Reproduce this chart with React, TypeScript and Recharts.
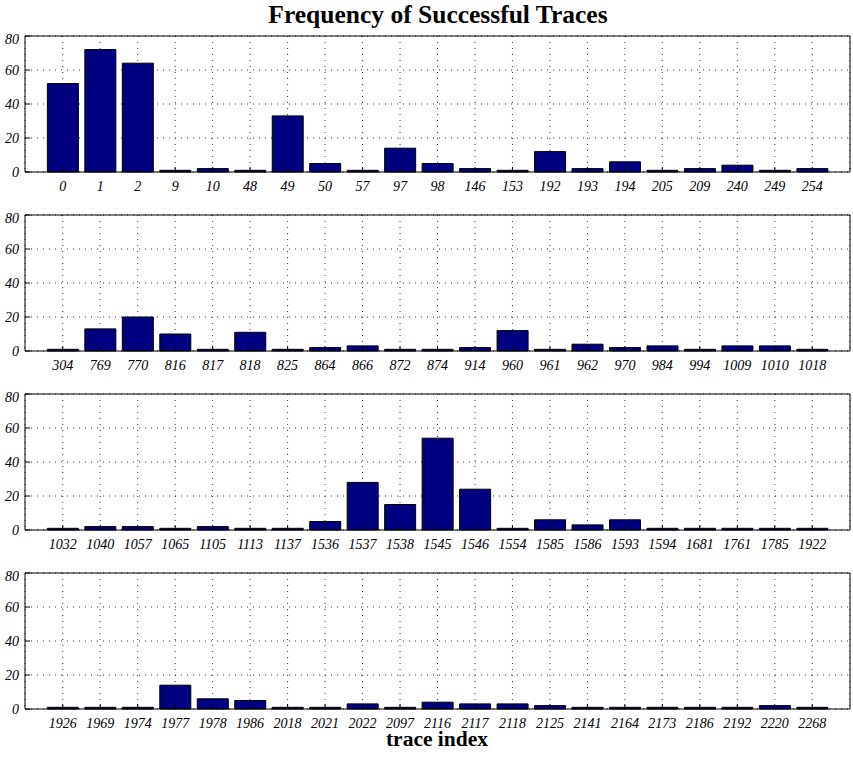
import React from "react";
import {
  Bar,
  BarChart,
  CartesianGrid,
  XAxis,
  YAxis,
} from "recharts";

// trace indices and their success counts, one list per panel
const traces1 = ["0", "1", "2", "9", "10", "48", "49", "50", "57", "97", "98", "146", "153", "192", "193", "194", "205", "209", "240", "249", "254"];
const counts1 = [52, 72, 64, 1, 2, 1, 33, 5, 1, 14, 5, 2, 1, 12, 2, 6, 1, 2, 4, 1, 2];

const traces2 = ["304", "769", "770", "816", "817", "818", "825", "864", "866", "872", "874", "914", "960", "961", "962", "970", "984", "994", "1009", "1010", "1018"];
const counts2 = [1, 13, 20, 10, 1, 11, 1, 2, 3, 1, 1, 2, 12, 1, 4, 2, 3, 1, 3, 3, 1];

const traces3 = ["1032", "1040", "1057", "1065", "1105", "1113", "1137", "1536", "1537", "1538", "1545", "1546", "1554", "1585", "1586", "1593", "1594", "1681", "1761", "1785", "1922"];
const counts3 = [1, 2, 2, 1, 2, 1, 1, 5, 28, 15, 54, 24, 1, 6, 3, 6, 1, 1, 1, 1, 1];

const traces4 = ["1926", "1969", "1974", "1977", "1978", "1986", "2018", "2021", "2022", "2097", "2116", "2117", "2118", "2125", "2141", "2164", "2173", "2186", "2192", "2220", "2268"];
const counts4 = [1, 1, 1, 14, 6, 5, 1, 1, 3, 1, 4, 3, 3, 2, 1, 1, 1, 1, 1, 2, 1];

const yTicks = [0, 20, 40, 60, 80];

const panels = [
  { traces: traces1, counts: counts1, top: 31 },
  { traces: traces2, counts: counts2, top: 210 },
  { traces: traces3, counts: counts3, top: 389 },
  { traces: traces4, counts: counts4, top: 568 },
];

const FONT = "'Liberation Serif', 'Times New Roman', serif";
const tickStyle = { fontFamily: FONT, fontStyle: "italic", fontSize: 14, fill: "#000" };
const pad = { left: 19, right: 19 };

const Panel = ({ traces, counts }: { traces: string[]; counts: number[] }) => {
  const data = traces.map((t, i) => ({ trace: t, count: counts[i] }));
  return (
    <BarChart
      width={853}
      height={171}
      data={data}
      margin={{ top: 4, right: 2, left: 0, bottom: 0 }}
      barCategoryGap="9%"
    >
      <CartesianGrid stroke="#000" strokeDasharray="1 5" strokeWidth={0.8} />
      <XAxis
        dataKey="trace"
        type="category"
        interval={0}
        height={30}
        padding={pad}
        tick={tickStyle}
        tickSize={-5}
        tickMargin={14}
        stroke="#000"
      />
      <XAxis
        xAxisId="top"
        dataKey="trace"
        orientation="top"
        type="category"
        interval={0}
        height={1}
        padding={pad}
        tick={false}
        tickSize={-5}
        stroke="#000"
      />
      <YAxis
        type="number"
        domain={[0, 80]}
        ticks={yTicks}
        width={25}
        tick={tickStyle}
        tickSize={-5}
        tickMargin={11}
        stroke="#000"
      />
      <YAxis
        yAxisId="right"
        orientation="right"
        type="number"
        domain={[0, 80]}
        ticks={yTicks}
        width={1}
        tick={false}
        tickSize={-5}
        stroke="#000"
      />
      <Bar dataKey="count" fill="#000080" stroke="#000" strokeWidth={1} isAnimationActive={false} />
    </BarChart>
  );
};

export default function App() {
  return (
    <div style={{ position: "absolute", left: 0, top: 0, width: 853, height: 758, background: "#fff" }}>
      {panels.map((p, i) => (
        <div key={i} style={{ position: "absolute", left: 0, top: p.top }}>
          <Panel traces={p.traces} counts={p.counts} />
        </div>
      ))}
      <svg width={853} height={758} style={{ position: "absolute", left: 0, top: 0, pointerEvents: "none" }}>
        <text x={438} y={23} textAnchor="middle" fontFamily={FONT} fontWeight="bold" fontSize={25.5}>
          Frequency of Successful Traces
        </text>
        <text x={437} y={746} textAnchor="middle" fontFamily={FONT} fontWeight="bold" fontSize={21.5}>
          trace index
        </text>
      </svg>
    </div>
  );
}
